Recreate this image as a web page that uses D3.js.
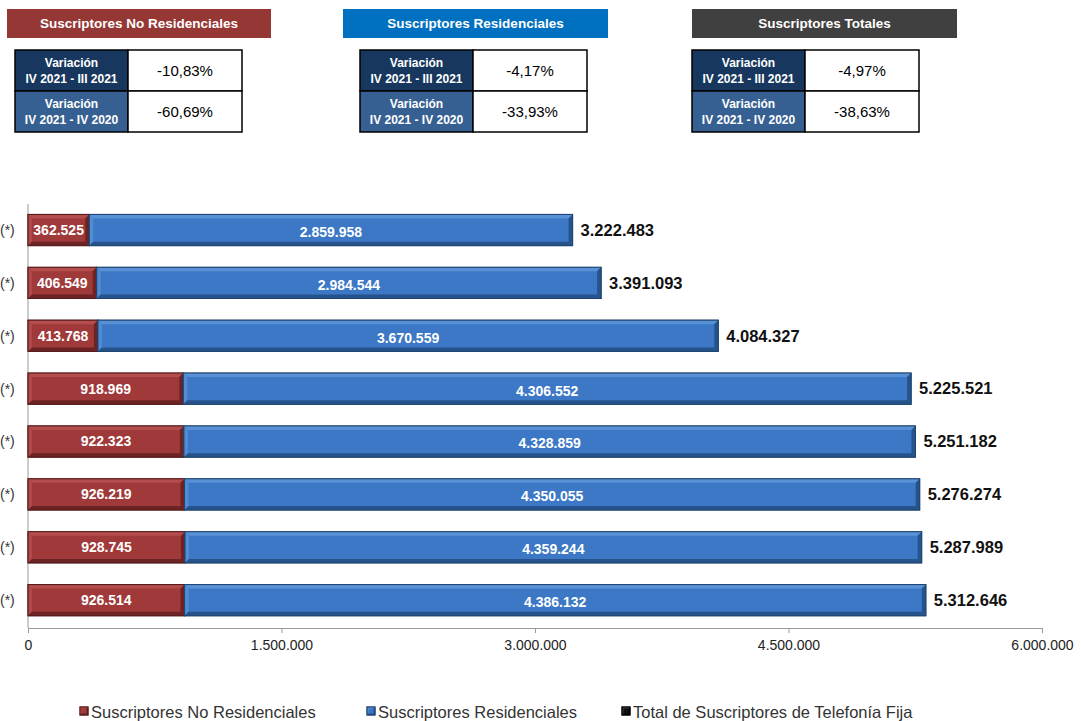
<!DOCTYPE html>
<html>
<head>
<meta charset="utf-8">
<script src="https://cdn.jsdelivr.net/npm/d3@7"></script>
<style>
  html, body { margin: 0; padding: 0; background: #fff; overflow: hidden; }
  svg { display: block; font-family: "Liberation Sans", Arial, sans-serif; }
</style>
</head>
<body>
<svg id="chart" width="1081" height="721"></svg>
<script>
// Quarterly fixed-line subscribers (every period carries the "(*)" note)
const periods = ["IV-2021", "III-2021", "II-2021", "I-2021",
                 "IV-2020", "III-2020", "II-2020", "I-2020"];
const periodNote = "(*)";
const noResidenciales = [362525, 406549, 413768, 918969, 922323, 926219, 928745, 926514];
const residenciales   = [2859958, 2984544, 3670559, 4306552, 4328859, 4350055, 4359244, 4386132];
const totales         = [3222483, 3391093, 4084327, 5225521, 5251182, 5276274, 5287989, 5312646];
const xTicks = [0, 1500000, 3000000, 4500000, 6000000];

const seriesNames = ["Suscriptores No Residenciales", "Suscriptores Residenciales",
                     "Total de Suscriptores de Telefonía Fija"];

// Summary panels
const panelTitles = ["Suscriptores No Residenciales", "Suscriptores Residenciales", "Suscriptores Totales"];
const rowLabels = [["Variación", "IV 2021 - III 2021"], ["Variación", "IV 2021 - IV 2020"]];
const variationQoQ = ["-10,83%", "-4,17%", "-4,97%"];
const variationYoY = ["-60,69%", "-33,93%", "-38,63%"];

const svg = d3.select("#chart");
const fmt = d3.formatLocale({ decimal: ",", thousands: ".", grouping: [3], currency: ["", ""] }).format(",d");

// ---------- summary panels ----------
const panelColors = ["#953735", "#0070C0", "#404040"];
const panelBoxes = [{ x: 7, w: 264 }, { x: 343, w: 265 }, { x: 692, w: 265 }];
const tableBoxes = [{ x: 15 }, { x: 360 }, { x: 692 }];
const leftW = 113, rightW = 114, rowH = 41, tableTop = 50;

panelTitles.forEach((t, i) => {
  const g = svg.append("g");
  g.append("rect").attr("x", panelBoxes[i].x).attr("y", 9)
    .attr("width", panelBoxes[i].w).attr("height", 29).attr("fill", panelColors[i]);
  g.append("text").attr("x", panelBoxes[i].x + panelBoxes[i].w / 2).attr("y", 28)
    .attr("text-anchor", "middle").attr("fill", "#fff").attr("font-weight", "bold")
    .attr("font-size", 13.5).text(t);

  const tx = tableBoxes[i].x;
  const vals = [variationQoQ[i], variationYoY[i]];
  const fills = ["#17375E", "#376092"];
  vals.forEach((v, r) => {
    const y = tableTop + r * rowH;
    g.append("rect").attr("x", tx).attr("y", y).attr("width", leftW).attr("height", rowH)
      .attr("fill", fills[r]).attr("stroke", "#000").attr("stroke-width", 1.5);
    g.append("rect").attr("x", tx + leftW).attr("y", y).attr("width", rightW).attr("height", rowH)
      .attr("fill", "#fff").attr("stroke", "#000").attr("stroke-width", 1.5);
    g.append("text").attr("x", tx + leftW / 2).attr("y", y + 17)
      .attr("text-anchor", "middle").attr("fill", "#fff").attr("font-weight", "bold")
      .attr("font-size", 12).text(rowLabels[r][0]);
    g.append("text").attr("x", tx + leftW / 2).attr("y", y + 33)
      .attr("text-anchor", "middle").attr("fill", "#fff").attr("font-weight", "bold")
      .attr("font-size", 12).text(rowLabels[r][1]);
    g.append("text").attr("x", tx + leftW + rightW / 2).attr("y", y + 26)
      .attr("text-anchor", "middle").attr("fill", "#000")
      .attr("font-size", 15).text(v);
  });
});

// ---------- bar chart ----------
const x = d3.scaleLinear().domain([0, 6000000]).range([28, 1042]);
const y = d3.scaleBand().domain(periods).range([203.6, 626.6]).paddingInner(0.41).paddingOuter(0.205);
const axisY = 628;

// axes
svg.append("line").attr("x1", x(0)).attr("x2", x(0)).attr("y1", 204).attr("y2", axisY)
  .attr("stroke", "#9a9a9a").attr("stroke-width", 1);
const xAxis = d3.axisBottom(x).tickValues(xTicks).tickFormat(fmt).tickSize(5).tickSizeOuter(0);
const gx = svg.append("g").attr("transform", `translate(0,${axisY})`).call(xAxis);
gx.select(".domain").attr("stroke", "#9a9a9a");
gx.selectAll(".tick line").attr("stroke", "#9a9a9a");
gx.selectAll(".tick text").attr("font-size", 14).attr("fill", "#222")
  .attr("font-family", "'Liberation Sans', Arial, sans-serif").attr("dy", "1.0em");

// period notes beside each bar
svg.append("g").selectAll("text").data(periods).join("text")
  .attr("x", 0).attr("y", d => y(d) + y.bandwidth() / 2).attr("dy", "0.35em")
  .attr("font-size", 14).attr("fill", "#333").text(periodNote);

// bevelled bar segment
const palette = {
  red:  { main: "#A03939", light: "#B44D4D", dark: "#6B2323", edge: "#571b1b" },
  blue: { main: "#3C78C5", light: "#5891D6", dark: "#26538C", edge: "#1f456f" }
};
function bevelRect(g, x0, y0, w, h, c, b) {
  g.append("rect").attr("x", x0).attr("y", y0).attr("width", w).attr("height", h)
    .attr("fill", c.main).attr("stroke", c.edge).attr("stroke-width", 1);
  // top bevel
  g.append("path").attr("d", `M${x0},${y0}H${x0 + w}L${x0 + w - b},${y0 + b}H${x0 + b}Z`).attr("fill", c.light);
  // left bevel
  g.append("path").attr("d", `M${x0},${y0}L${x0 + b},${y0 + b}V${y0 + h - b}L${x0},${y0 + h}Z`).attr("fill", c.light).attr("opacity", 0.8);
  // bottom bevel
  g.append("path").attr("d", `M${x0},${y0 + h}H${x0 + w}L${x0 + w - b},${y0 + h - b}H${x0 + b}Z`).attr("fill", c.dark);
  // right bevel
  g.append("path").attr("d", `M${x0 + w},${y0}L${x0 + w - b},${y0 + b}V${y0 + h - b}L${x0 + w},${y0 + h}Z`).attr("fill", c.dark);
  g.append("rect").attr("x", x0).attr("y", y0).attr("width", w).attr("height", h)
    .attr("fill", "none").attr("stroke", c.edge).attr("stroke-width", 1);
}

const bars = svg.append("g");
periods.forEach((p, i) => {
  const y0 = y(p), h = y.bandwidth();
  const g = bars.append("g");
  bevelRect(g, x(0), y0, x(noResidenciales[i]) - x(0), h, palette.red, 4);
  bevelRect(g, x(noResidenciales[i]), y0, x(noResidenciales[i] + residenciales[i]) - x(noResidenciales[i]), h, palette.blue, 4);
  const cy = y0 + h / 2;
  g.append("text").attr("x", (x(0) + x(noResidenciales[i])) / 2).attr("y", cy).attr("dy", "0.35em")
    .attr("text-anchor", "middle").attr("fill", "#fff").attr("font-weight", "bold")
    .attr("font-size", 14).text(fmt(noResidenciales[i]));
  g.append("text").attr("x", (x(noResidenciales[i]) + x(noResidenciales[i] + residenciales[i])) / 2)
    .attr("y", cy + 2).attr("dy", "0.35em")
    .attr("text-anchor", "middle").attr("fill", "#fff").attr("font-weight", "bold")
    .attr("font-size", 14).text(fmt(residenciales[i]));
  g.append("text").attr("x", x(totales[i]) + 8).attr("y", cy).attr("dy", "0.35em")
    .attr("fill", "#111").attr("font-weight", "bold")
    .attr("font-size", 16.5).text(fmt(totales[i]));
});

// ---------- legend ----------
const legendColors = [palette.red, palette.blue, { main: "#111", light: "#444", dark: "#000", edge: "#000" }];
const legendX = [80, 367, 622];
seriesNames.forEach((n, i) => {
  const g = svg.append("g");
  bevelRect(g, legendX[i], 707, 8, 8, legendColors[i], 1.5);
  g.append("text").attr("x", legendX[i] + 11).attr("y", 718)
    .attr("font-size", 16.5).attr("fill", "#333").text(n);
});
</script>
</body>
</html>
